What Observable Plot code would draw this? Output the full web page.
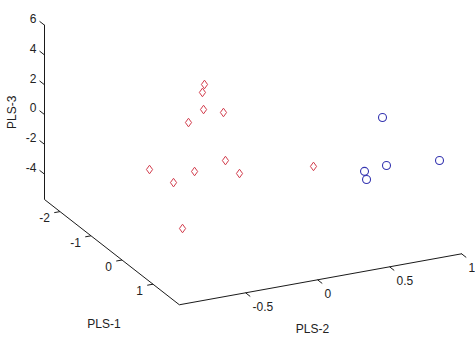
<!DOCTYPE html>
<html><head><meta charset="utf-8">
<script src="https://cdn.jsdelivr.net/npm/d3@7"></script>
<script src="https://cdn.jsdelivr.net/npm/@observablehq/plot@0.6"></script>
<style>html,body{margin:0;padding:0;background:#fff;overflow:hidden} svg{display:block}</style>
</head><body><div id="chart"></div>
<script>
// ---- data (scores) ----
const redPLS1 = [-0.4, 0.3, -0.5, 0.5, -1.0, -1.5, -0.8, -0.2, -0.3, 0.2, 1.0, -0.6];
const redPLS2 = [-0.301, -0.466, -0.286, -0.363, -0.283, -0.446, -0.430, -0.413, -0.177, -0.187, -0.755, 0.499];
const redPLS3 = [4.28, 5.17, 2.41, 3.97, 0.72, -2.96, -2.73, -1.04, -0.88, -0.92, -2.32, -2.94];
const bluePLS1 = [0.0, 0.4, 0.6, 0.9, 1.5];
const bluePLS2 = [0.849, 0.638, 0.609, 0.683, 0.922];
const bluePLS3 = [0.71, -1.89, -2.06, -0.76, 0.13];

const pls1Limits = [-2.5, 1.85];
const pls2Limits = [-0.96, 1.0];
const pls3Limits = [-5.7, 6];
const pls1Ticks = [-2, -1, 0, 1];
const pls2Ticks = [-0.5, 0, 0.5, 1];
const pls3Ticks = [-4, -2, 0, 2, 4, 6];
const pls1TickLabels = ["-2", "-1", "0", "1"];
const pls2TickLabels = ["-0.5", "0", "0.5", "1"];
const pls3TickLabels = ["-4", "-2", "0", "2", "4", "6"];
const axisTitles = ["PLS-1", "PLS-2", "PLS-3"];

// ---- oblique 3D view (view units) ----
const view = {ox: 44, oy: 199, u1: [31, 24.2], u2: [144, -26], u3: [0, -14.9]};
function proj(p1, p2, p3) {
  const a = p1 - pls1Limits[0], b = p2 - pls2Limits[0], c = p3 - pls3Limits[0];
  return {
    x: view.ox + a * view.u1[0] + b * view.u2[0] + c * view.u3[0],
    y: view.oy + a * view.u1[1] + b * view.u2[1] + c * view.u3[1]
  };
}

const red = redPLS1.map((v, i) => proj(v, redPLS2[i], redPLS3[i]));
const blue = bluePLS1.map((v, i) => proj(v, bluePLS2[i], bluePLS3[i]));

const [x0, x1] = pls1Limits, [y0, y1] = pls2Limits, [z0, z1] = pls3Limits;
const axisPath = [proj(x0, y0, z1), proj(x0, y0, z0), proj(x1, y0, z0), proj(x1, y1, z0)];

const ticks = [];
pls3Ticks.forEach(t => { const a = proj(x0, y0, t), b = proj(x0 - 0.16, y0, t); ticks.push({x1: a.x, y1: a.y, x2: b.x, y2: b.y}); });
pls1Ticks.forEach(t => { const a = proj(t, y0, z0), b = proj(t, y0 - 0.04, z0); ticks.push({x1: a.x, y1: a.y, x2: b.x, y2: b.y}); });
pls2Ticks.forEach(t => { const a = proj(x1, t, z0), b = proj(x1 + 0.15, t, z0); ticks.push({x1: a.x, y1: a.y, x2: b.x, y2: b.y}); });

const lab3 = pls3Ticks.map((t, i) => ({...proj(x0, y0, t), text: pls3TickLabels[i]}));
const lab1 = pls1Ticks.map((t, i) => ({...proj(t, y0, z0), text: pls1TickLabels[i]}));
const lab2 = pls2Ticks.map((t, i) => ({...proj(x1, t, z0), text: pls2TickLabels[i]}));

const t1 = proj((x0 + x1) / 2, y0, z0);
const t2 = proj(x1, (y0 + y1) / 2, z0);
const t3 = proj(x0, y0, (z0 + z1) / 2);

const diamond = {
  draw(ctx, size) {
    const s = Math.sqrt(size / Math.PI);
    ctx.moveTo(0, -s); ctx.lineTo(s * 0.72, 0); ctx.lineTo(0, s); ctx.lineTo(-s * 0.72, 0); ctx.closePath();
  }
};

const font = "Liberation Sans, Arial, Helvetica, sans-serif";
const txt = "#222";

const chart = Plot.plot({
  width: 475, height: 340,
  marginTop: 0, marginRight: 0, marginBottom: 0, marginLeft: 0,
  x: {domain: [0, 475], range: [0, 475], axis: null},
  y: {domain: [0, 340], range: [0, 340], axis: null},
  style: {fontFamily: font, background: "#fff"},
  marks: [
    Plot.line(axisPath, {x: "x", y: "y", stroke: "#1a1a1a", strokeWidth: 1}),
    Plot.link(ticks, {x1: "x1", y1: "y1", x2: "x2", y2: "y2", stroke: "#1a1a1a", strokeWidth: 1}),
    Plot.text(lab3, {x: "x", y: "y", text: "text", textAnchor: "end", dx: -8, dy: -6, fontSize: 12, fill: txt}),
    Plot.text(lab1, {x: "x", y: "y", text: "text", textAnchor: "end", dx: -10, dy: 7, fontSize: 12, fill: txt}),
    Plot.text(lab2, {x: "x", y: "y", text: "text", textAnchor: "start", dx: 7, dy: 14, fontSize: 12, fill: txt}),
    Plot.text([t1], {x: "x", y: "y", text: () => axisTitles[0], dx: -8, dy: 72, fontSize: 12, fill: txt}),
    Plot.text([t2], {x: "x", y: "y", text: () => axisTitles[1], dx: -8, dy: 50, fontSize: 12, fill: txt}),
    Plot.text([t3], {x: "x", y: "y", text: () => axisTitles[2], dx: -32, rotate: -90, fontSize: 12, fill: txt}),
    Plot.dot(red, {x: "x", y: "y", symbol: diamond, r: 4.3, stroke: "#d23c4c", strokeWidth: 1, fill: "none"}),
    Plot.dot(blue, {x: "x", y: "y", symbol: "circle", r: 4, stroke: "#3434b0", strokeWidth: 1.1, fill: "none"})
  ]
});
document.getElementById("chart").appendChild(chart);
</script>
</body></html>
